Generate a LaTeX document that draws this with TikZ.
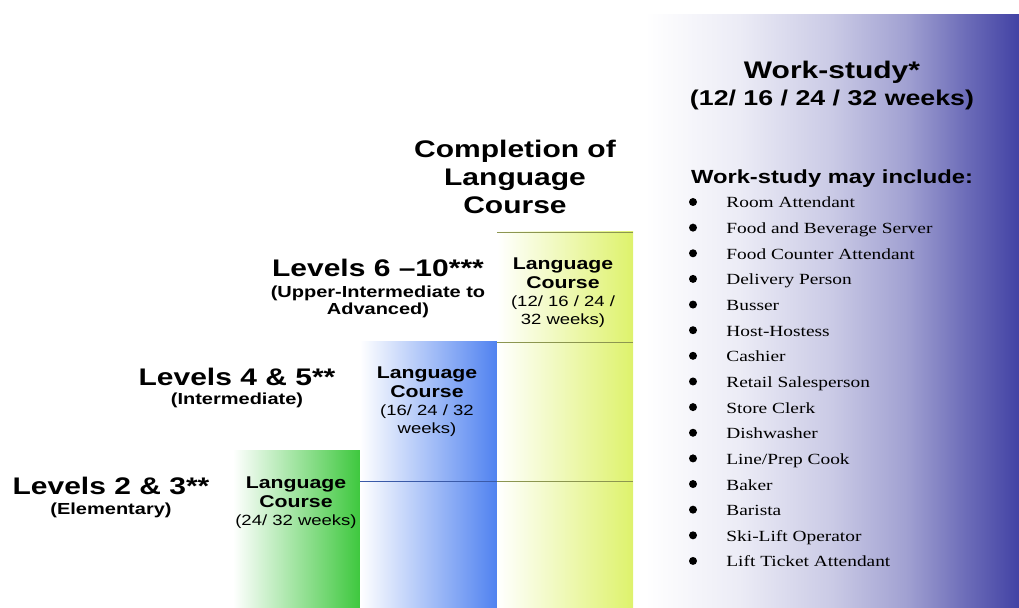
\documentclass[tikz,border=0pt]{standalone}
\usepackage{fontspec}
\setmainfont{Liberation Sans}
\newfontfamily\widesans[FakeStretch=1.25,Ligatures=TeX]{Liberation Sans}
\newfontfamily\wideserif[FakeStretch=1.25,Ligatures=TeX]{Liberation Serif}
\newcommand{\wkfont}{\widesans\mdseries\fontsize{7.4}{8.3}\selectfont}
\usetikzlibrary{positioning}

% Define colors
\definecolor{greenbar}{RGB}{62,200,62}
\definecolor{bluebar}{RGB}{80,130,240}
\definecolor{yellowbar}{RGB}{222,242,108}
\definecolor{workpurple}{RGB}{66,66,164}
\definecolor{oliveline}{RGB}{140,150,80}
\definecolor{blueline}{RGB}{58,90,168}
\colorlet{workA}{workpurple!10}
\colorlet{workB}{workpurple!28}
\colorlet{workC}{workpurple!50}
\colorlet{workD}{workpurple!78}

% path spans 25bp..75bp of the shading
\pgfdeclarehorizontalshading{workshade}{100bp}{color(0bp)=(white); color(25bp)=(white); color(37.5bp)=(workA); color(50bp)=(workB); color(60bp)=(workC); color(68bp)=(workD); color(75bp)=(workpurple); color(100bp)=(workpurple)}

\tikzset{
    heading/.style={font=\widesans\bfseries\fontsize{12}{14.2}\selectfont, align=center, inner sep=0pt},
    subheading/.style={font=\widesans\bfseries\fontsize{8}{8.6}\selectfont, align=center, inner sep=0pt},
    barlabel/.style={font=\widesans\bfseries\fontsize{8.5}{9.2}\selectfont, align=center, inner sep=0pt},
    jobitem/.style={anchor=base west, font=\wideserif\fontsize{7.75}{9}\selectfont, inner sep=0pt}
}

\begin{document}
\begin{tikzpicture}[x=0.5pt, y=-0.5pt]
    \useasboundingbox (0,0) rectangle (1019,608);

    % Work-study background
    \shade[shading=workshade] (645,15) rectangle (1019,608);

    % Bars
    \shade[left color=white, right color=greenbar] (233,451) rectangle (360,608);
    \shade[left color=white, right color=bluebar] (360,342) rectangle (497,608);
    \shade[left color=white, right color=yellowbar] (497,232) rectangle (633,608);

    % Step lines
    \draw[blueline, thin] (360,481) -- (497,481);
    \draw[oliveline, thin] (497,232) -- (633,232);
    \draw[oliveline, thin] (497,342) -- (633,342);
    \draw[oliveline, thin] (497,481) -- (633,481);

    % Level headings
    \node[heading] (lvlhigh) at (378,268) {Levels 6 –10***};
    \node[subheading] (lvlhighsub) at (378,302) {(Upper-Intermediate to\\Advanced)};
    \node[heading] (lvlmid) at (237,377) {Levels 4 \& 5**};
    \node[subheading] (lvlmidsub) at (237,400) {(Intermediate)};
    \node[heading] (lvllow) at (111,486) {Levels 2 \& 3**};
    \node[subheading] (lvllowsub) at (111,510) {(Elementary)};

    % Bar labels
    \node[barlabel] (courselow) at (296,503) {Language\\Course\\{\wkfont (24/ 32 weeks)}};
    \node[barlabel] (coursemid) at (427,402) {Language\\Course\\{\wkfont (16/ 24 / 32}\\{\wkfont weeks)}};
    \node[barlabel] (coursehigh) at (563,293) {Language\\Course\\{\wkfont (12/ 16 / 24 /}\\{\wkfont 32 weeks)}};

    % Completion
    \node[heading] (completion) at (515,177) {Completion of\\Language\\Course};

    % Work-study
    \node[heading] (workstudy) at (832,72) {Work-study*};
    \node[heading, font=\widesans\bfseries\fontsize{10.7}{12}\selectfont] (workweeks) at (832,100) {(12/ 16 / 24 / 32 weeks)};
    \node[heading, font=\widesans\bfseries\fontsize{9.5}{11}\selectfont] (mayinclude) at (832,179) {Work-study may include:};

    % Job list
    \foreach \job [count=\i from 0] in {Room Attendant, Food and Beverage Server, Food Counter Attendant, Delivery Person, Busser, Host-Hostess, Cashier, Retail Salesperson, Store Clerk, Dishwasher, Line/Prep Cook, Baker, Barista, Ski-Lift Operator, Lift Ticket Attendant} {
        \fill (693,202+25.64*\i) circle (2pt);
        \node[jobitem] (job\i) at (726,208+25.64*\i) {\job};
    }
\end{tikzpicture}
\end{document}
